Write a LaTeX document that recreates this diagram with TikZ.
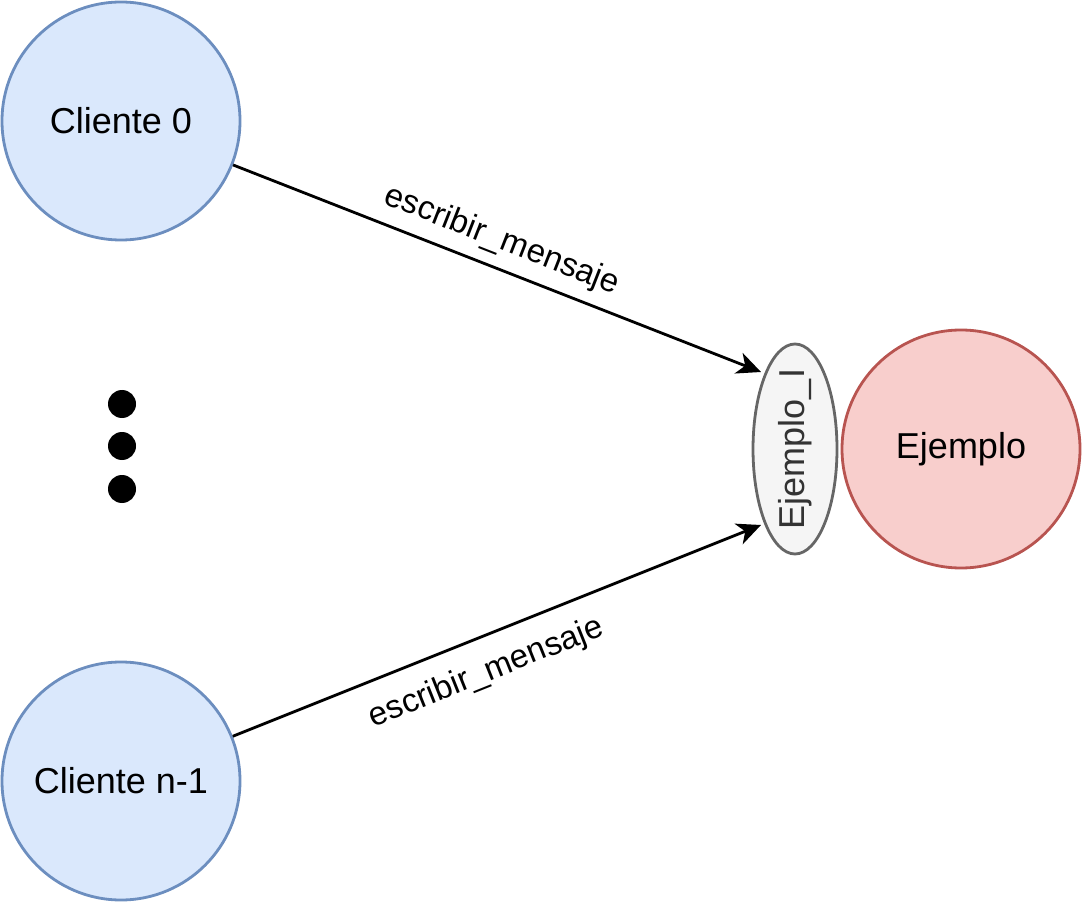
\documentclass[tikz,border=0pt]{standalone}
\usepackage{fontspec}
\setmainfont{Liberation Sans}
\usepackage{tikz}
\usetikzlibrary{arrows.meta}
\usetikzlibrary{positioning,shapes.geometric}
\definecolor{clifill}{HTML}{DAE8FC}
\definecolor{clidraw}{HTML}{6C8EBF}
\definecolor{srvfill}{HTML}{F8CECC}
\definecolor{srvdraw}{HTML}{B85450}
\definecolor{intfill}{HTML}{F5F5F5}
\definecolor{intdraw}{HTML}{666666}
\definecolor{inttext}{HTML}{333333}

\begin{document}
\begin{tikzpicture}[
x=0.5pt,y=-0.5pt,
Cliente/.style={circle,draw=clidraw,fill=clifill,line width=1.4pt,minimum size=119pt,inner sep=0pt,font=\fontsize{18}{22}\selectfont},
Servidor/.style={circle,draw=srvdraw,fill=srvfill,line width=1.4pt,minimum size=119pt,inner sep=0pt,font=\fontsize{18}{22}\selectfont},
Interfaz/.style={ellipse,draw=intdraw,fill=intfill,line width=1.4pt,minimum width=42pt,minimum height=105pt,inner sep=0pt},
Punto/.style={circle,fill=black,minimum size=14pt,inner sep=0pt},
Mensaje/.style={draw=black,line width=1.4pt,-{Stealth[length=12pt,width=11pt,inset=3.5pt]}},
Etiqueta/.style={sloped,font=\fontsize{16.5}{19}\selectfont}
]
\useasboundingbox (0,0) rectangle (1086,903);

% clientes
\node[Cliente] (c0) at (121,121) {Cliente 0};
\node[Cliente] (cn) at (121,781) {Cliente n-1};

% puntos suspensivos
\foreach \i/\y in {1/404,2/446,3/489}
  \node[Punto] (p\i) at (122,\y) {};

% servidor e interfaz
\node[Servidor] (ej) at (961,449) {Ejemplo};
\node[Interfaz] (ei) at (795,449) {};
\node[rotate=90,text=inttext,font=\fontsize{18}{22}\selectfont] (eitxt) at (ei) {Ejemplo\_I};

\coordinate (tipA) at (761,372);
\coordinate (tipB) at (761,525);

\draw[Mensaje] (c0) -- (tipA) node[Etiqueta,pos=0.49,above=2pt]{escribir\_mensaje};
\draw[Mensaje] (cn) -- (tipB) node[Etiqueta,pos=0.455,below=6pt]{escribir\_mensaje};

\end{tikzpicture}
\end{document}
